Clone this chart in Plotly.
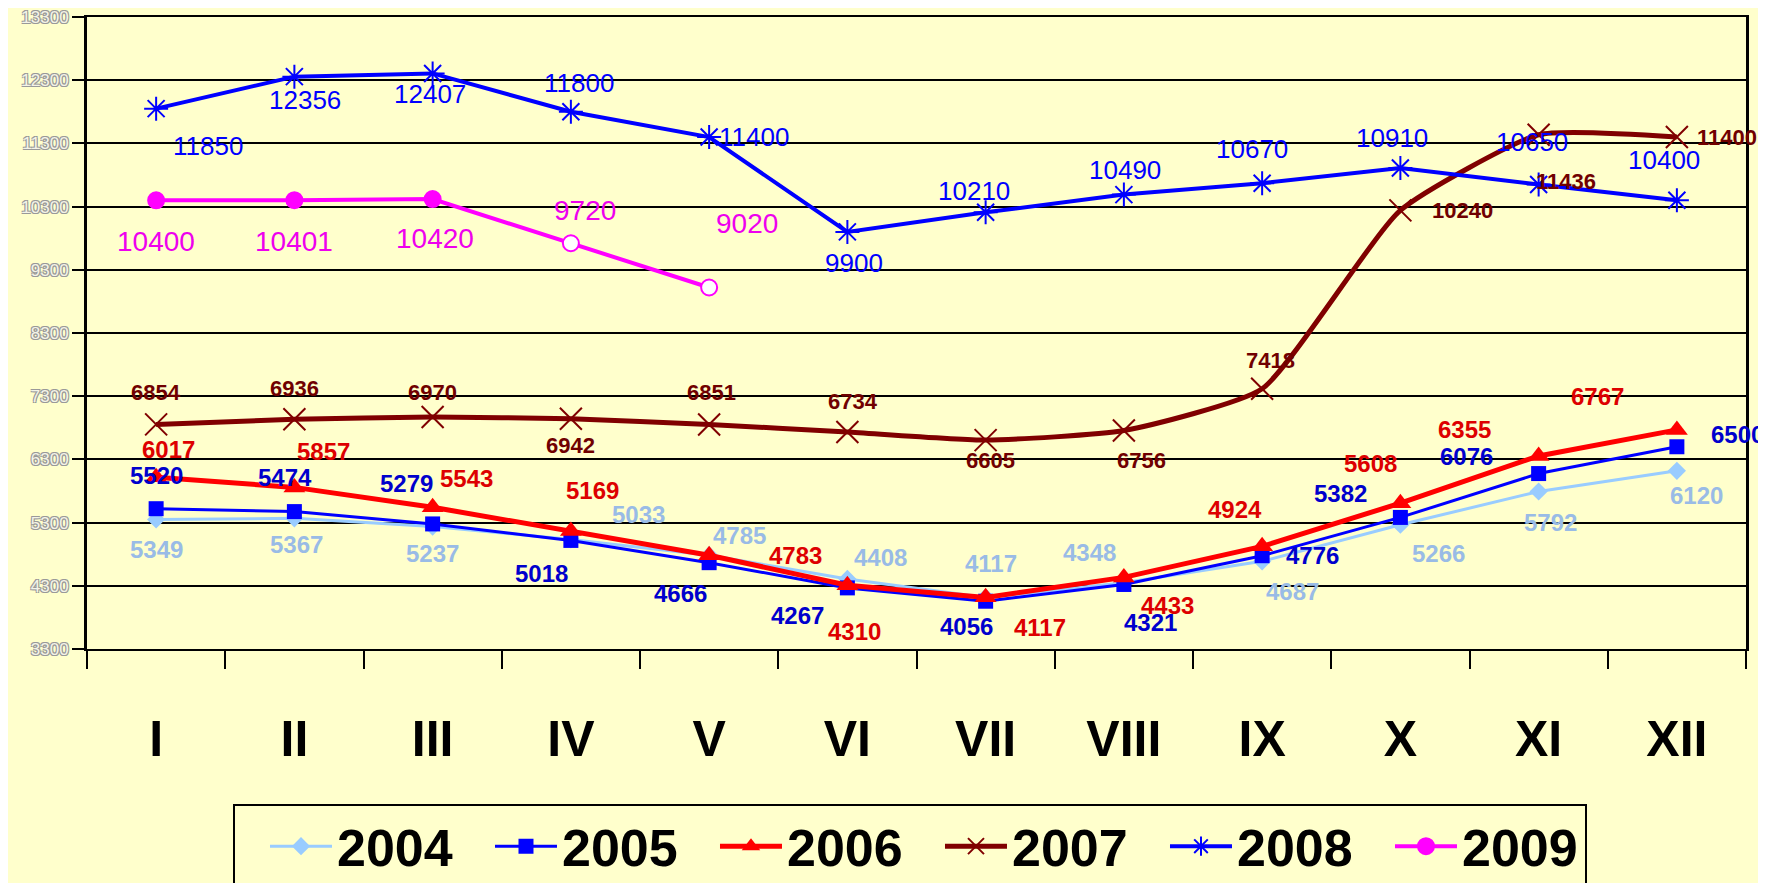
import plotly.graph_objects as go

months = ["I", "II", "III", "IV", "V", "VI", "VII", "VIII", "IX", "X", "XI", "XII"]
y2004 = [5349, 5367, 5237, 5033, 4785, 4408, 4117, 4348, 4687, 5266, 5792, 6120]
y2005 = [5520, 5474, 5279, 5018, 4666, 4267, 4056, 4321, 4776, 5382, 6076, 6500]
y2006 = [6017, 5857, 5543, 5169, 4783, 4310, 4117, 4433, 4924, 5608, 6355, 6767]
y2007 = [6854, 6936, 6970, 6942, 6851, 6734, 6605, 6756, 7418, 10240, 11436, 11400]
y2008 = [11850, 12356, 12407, 11800, 11400, 9900, 10210, 10490, 10670, 10910, 10650, 10400]
y2009 = [10400, 10401, 10420, 9720, 9020]
y_ticks = [3300, 4300, 5300, 6300, 7300, 8300, 9300, 10300, 11300, 12300, 13300]
y_ticktext = [str(v) for v in y_ticks]

# label offsets (pixels: dx right, dy down) - styling only
off2004 = [(0, 30), (2, 26), (0, 27), (68, -25), (30, -20), (33, -21), (5, -34), (-34, -30), (30, 30), (38, 29), (12, 31), (20, 25)]
off2005 = [(0, -33), (-9, -34), (-26, -40), (-29, 33), (-29, 31), (-50, 28), (-19, 25), (27, 38), (50, 0), (-60, -24), (-72, -17), (61, -12)]
off2006 = [(12, -28), (29, -36), (34, -29), (22, -40), (86, 0), (7, 46), (54, 30), (44, 28), (-27, -37), (-30, -40), (-74, -26), (-79, -33)]
off2007 = [(0, -32), (0, -31), (0, -25), (0, 27), (2, -32), (6, -30), (5, 20), (18, 30), (8, -28), (62, 0), (27, 47), (50, 0)]
off2008 = [(52, 37), (11, 23), (-3, 21), (8, -29), (45, 0), (7, 31), (-12, -21), (1, -25), (-10, -34), (-8, -30), (-7, -42), (-13, -40)]
off2009 = [(0, 41), (0, 41), (2, 39), (14, -33), (38, -64)]

BG = "#FFFFCC"
SANS = "Liberation Sans, Arial, sans-serif"

fig = go.Figure()

series = [
    ("2004", y2004, "#99CCFF", "#99BBE6", 3, dict(symbol="diamond", size=14), "linear", off2004, 24, "bold"),
    ("2005", y2005, "#0000FF", "#0000CC", 3, dict(symbol="square", size=15), "linear", off2005, 24, "bold"),
    ("2006", y2006, "#FF0000", "#DD0000", 5, dict(symbol="triangle-up", size=19), "linear", off2006, 24, "bold"),
    ("2007", y2007, "#800000", "#700000", 5, dict(symbol="x-thin-open", size=22, line=dict(width=2, color="#800000")), "spline", off2007, 22, "bold"),
    ("2008", y2008, "#0000FF", "#0000FF", 4, dict(symbol="asterisk-open", size=20, line=dict(width=2, color="#0000FF")), "linear", off2008, 26, "normal"),
]

for name, ys, col, tcol, lw, mk, shape, offs, fs, fw in series:
    m = dict(mk)
    m.setdefault("color", col)
    fig.add_trace(go.Scatter(
        x=months[:len(ys)], y=ys, name=name, mode="lines+markers",
        line=dict(color=col, width=lw, shape=shape, smoothing=0.5),
        marker=m,
    ))
    for xi, yi, (dx, dy) in zip(months, ys, offs):
        fig.add_annotation(x=xi, y=yi, text=str(yi), showarrow=False,
                           xshift=dx, yshift=-dy,
                           font=dict(family=SANS, size=fs, color=tcol, weight=fw))

fig.add_trace(go.Scatter(
    x=months[:len(y2009)], y=y2009, name="2009", mode="lines+markers",
    line=dict(color="#FF00FF", width=4),
    marker=dict(symbol="circle", size=16,
                color=["#FF00FF"] * 3 + ["#FFFFFF"] * 2,
                line=dict(color="#FF00FF", width=2)),
))
for xi, yi, (dx, dy) in zip(months, y2009, off2009):
    fig.add_annotation(x=xi, y=yi, text=str(yi), showarrow=False,
                       xshift=dx, yshift=-dy,
                       font=dict(family=SANS, size=28, color="#EE00EE"))

fig.update_layout(
    width=1766, height=883,
    paper_bgcolor=BG, plot_bgcolor=BG,
    margin=dict(l=79, r=28, t=9, b=242, autoexpand=False),
    showlegend=True,
    legend=dict(
        orientation="h", x=0.088, y=-0.245, xanchor="left", yanchor="top",
        bgcolor=BG, bordercolor="black", borderwidth=2,
        font=dict(family=SANS, size=52, color="black", weight="bold"),
        entrywidth=118, entrywidthmode="pixels", itemwidth=62, indentation=30,
    ),
)

fig.update_xaxes(
    type="category", categoryorder="array", categoryarray=months,
    range=[-0.5, 11.5], showgrid=False, automargin=False,
    showline=True, linecolor="black", linewidth=2, mirror=True,
    ticks="outside", tickson="boundaries", ticklen=18, tickwidth=2, tickcolor="black",
    tickfont=dict(family=SANS, size=50, color="black", weight="bold"),
    ticklabelstandoff=45,
)
fig.update_yaxes(
    range=[3300, 13300], tickvals=y_ticks, ticktext=y_ticktext, automargin=False,
    ticklabeloverflow="allow",
    showgrid=True, gridcolor="black", gridwidth=2,
    showline=True, linecolor="black", linewidth=3, mirror=True,
    ticks="outside", ticklen=12, tickwidth=2, tickcolor="black",
    tickfont=dict(family=SANS, size=17, color="#F4F4E8",
                  shadow="-1px -1px 0 #999, 1px -1px 0 #999, -1px 1px 0 #999, 1px 1px 0 #999"),
    zeroline=False,
)

fig.write_html("out.html")
